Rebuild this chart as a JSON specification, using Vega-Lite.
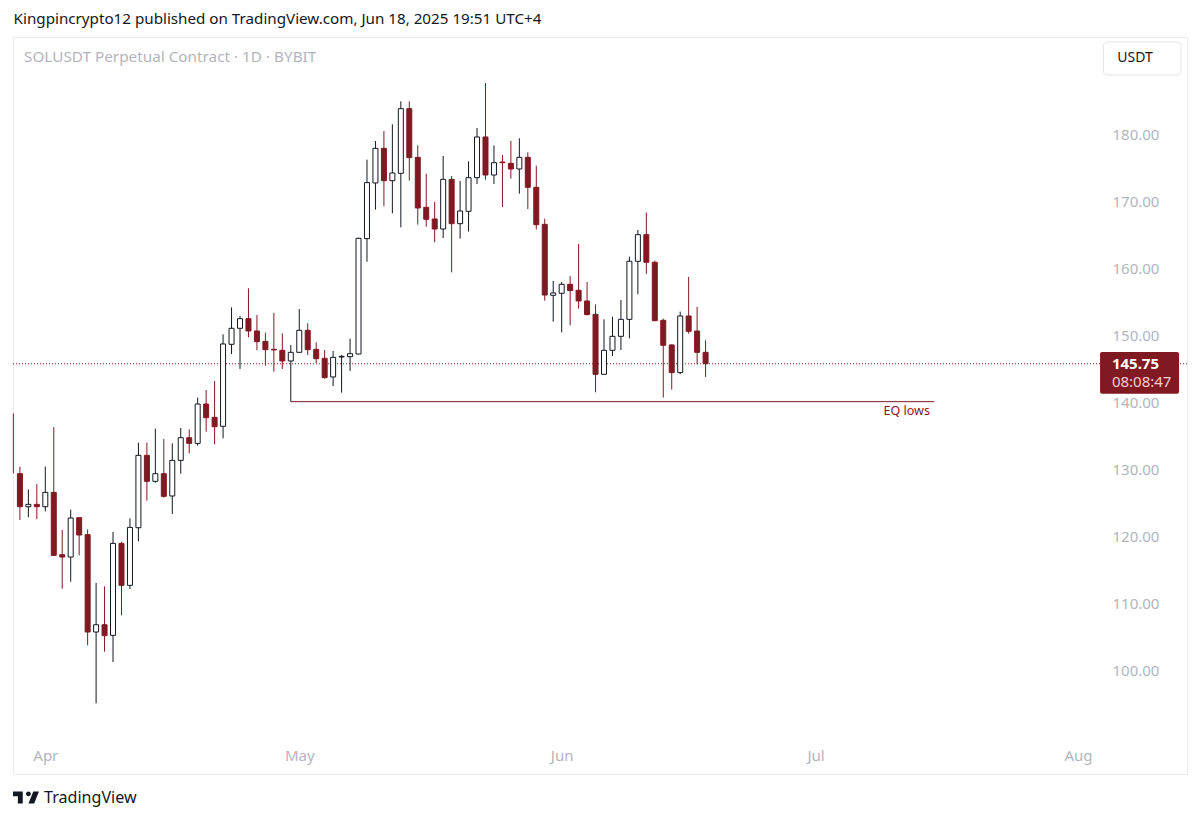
{
  "$schema": "https://vega.github.io/schema/vega-lite/v6.json",
  "width": 1174,
  "height": 737,
  "autosize": {"type": "none"},
  "padding": {"left": 13, "top": 37, "right": 13, "bottom": 47},
  "background": "white",
  "config": {
    "view": {"stroke": "#e9eaed", "strokeWidth": 1},
    "font": "Noto Sans",
    "text": {"font": "Noto Sans"}
  },
  "datasets": {
    "candles": [
      {"date": "2025-03-28T05:20:00Z", "open": null, "high": 138.34, "low": 129.38, "close": null},
      {"date": "2025-03-29", "open": 129.33, "high": 130.38, "low": 122.41, "close": 124.40},
      {"date": "2025-03-30", "open": 124.40, "high": 126.99, "low": 122.81, "close": 124.75},
      {"date": "2025-03-31", "open": 124.75, "high": 127.79, "low": 122.56, "close": 124.40},
      {"date": "2025-04-01", "open": 124.40, "high": 130.38, "low": 123.70, "close": 126.54},
      {"date": "2025-04-02", "open": 126.54, "high": 136.30, "low": 117.03, "close": 117.13},
      {"date": "2025-04-03", "open": 117.23, "high": 120.92, "low": 112.15, "close": 116.88},
      {"date": "2025-04-04", "open": 116.88, "high": 123.95, "low": 113.20, "close": 122.71},
      {"date": "2025-04-05", "open": 122.76, "high": 122.76, "low": 117.13, "close": 120.17},
      {"date": "2025-04-06", "open": 120.22, "high": 121.02, "low": 103.69, "close": 105.68},
      {"date": "2025-04-07", "open": 105.68, "high": 113.00, "low": 95.02, "close": 106.77},
      {"date": "2025-04-08", "open": 106.77, "high": 112.50, "low": 102.74, "close": 105.13},
      {"date": "2025-04-09", "open": 105.18, "high": 120.62, "low": 101.20, "close": 118.92},
      {"date": "2025-04-10", "open": 118.92, "high": 119.17, "low": 108.17, "close": 112.65},
      {"date": "2025-04-11", "open": 112.65, "high": 122.66, "low": 112.10, "close": 121.31},
      {"date": "2025-04-12", "open": 121.26, "high": 133.96, "low": 119.22, "close": 132.07},
      {"date": "2025-04-13", "open": 132.07, "high": 133.96, "low": 125.30, "close": 128.19},
      {"date": "2025-04-14", "open": 128.19, "high": 136.05, "low": 127.99, "close": 129.33},
      {"date": "2025-04-15", "open": 129.33, "high": 134.51, "low": 125.75, "close": 125.95},
      {"date": "2025-04-16", "open": 126.00, "high": 133.86, "low": 123.31, "close": 131.32},
      {"date": "2025-04-17", "open": 131.32, "high": 136.15, "low": 129.33, "close": 134.71},
      {"date": "2025-04-18", "open": 134.71, "high": 135.95, "low": 132.37, "close": 133.86},
      {"date": "2025-04-19", "open": 133.86, "high": 140.69, "low": 133.51, "close": 139.74},
      {"date": "2025-04-20", "open": 139.74, "high": 141.83, "low": 135.61, "close": 137.70},
      {"date": "2025-04-21", "open": 137.75, "high": 143.18, "low": 133.71, "close": 136.35},
      {"date": "2025-04-22", "open": 136.41, "high": 150.15, "low": 134.61, "close": 148.71},
      {"date": "2025-04-23", "open": 148.66, "high": 154.18, "low": 147.21, "close": 151.05},
      {"date": "2025-04-24", "open": 151.05, "high": 152.89, "low": 144.97, "close": 152.49},
      {"date": "2025-04-25", "open": 152.49, "high": 157.02, "low": 149.70, "close": 150.65},
      {"date": "2025-04-26", "open": 150.65, "high": 153.04, "low": 147.76, "close": 149.05},
      {"date": "2025-04-27", "open": 149.10, "high": 150.40, "low": 145.47, "close": 147.86},
      {"date": "2025-04-28", "open": 147.91, "high": 153.34, "low": 144.57, "close": 147.81},
      {"date": "2025-04-29", "open": 147.76, "high": 150.30, "low": 144.97, "close": 146.17},
      {"date": "2025-04-30", "open": 146.17, "high": 148.56, "low": 140.09, "close": 147.46},
      {"date": "2025-05-01", "open": 147.46, "high": 153.93, "low": 147.46, "close": 150.75},
      {"date": "2025-05-02", "open": 150.75, "high": 151.79, "low": 147.06, "close": 147.86},
      {"date": "2025-05-03", "open": 147.91, "high": 148.95, "low": 145.82, "close": 146.51},
      {"date": "2025-05-04", "open": 146.56, "high": 147.81, "low": 143.53, "close": 143.68},
      {"date": "2025-05-05", "open": 143.78, "high": 147.66, "low": 142.43, "close": 146.71},
      {"date": "2025-05-06", "open": 146.76, "high": 147.06, "low": 141.44, "close": 146.86},
      {"date": "2025-05-07", "open": 146.81, "high": 149.50, "low": 144.67, "close": 147.26},
      {"date": "2025-05-08", "open": 147.21, "high": 164.59, "low": 147.16, "close": 164.49},
      {"date": "2025-05-09", "open": 164.44, "high": 176.24, "low": 161.00, "close": 172.81},
      {"date": "2025-05-10", "open": 172.76, "high": 179.03, "low": 168.77, "close": 177.93},
      {"date": "2025-05-11", "open": 177.93, "high": 180.52, "low": 169.27, "close": 173.10},
      {"date": "2025-05-12", "open": 173.10, "high": 181.52, "low": 168.22, "close": 174.25},
      {"date": "2025-05-13", "open": 174.20, "high": 184.96, "low": 166.13, "close": 183.86},
      {"date": "2025-05-14", "open": 183.86, "high": 184.96, "low": 173.10, "close": 176.54},
      {"date": "2025-05-15", "open": 176.59, "high": 178.38, "low": 166.53, "close": 169.02},
      {"date": "2025-05-16", "open": 169.12, "high": 174.15, "low": 166.23, "close": 167.33},
      {"date": "2025-05-17", "open": 167.38, "high": 169.92, "low": 163.89, "close": 165.88},
      {"date": "2025-05-18", "open": 165.88, "high": 176.79, "low": 164.54, "close": 173.30},
      {"date": "2025-05-19", "open": 173.30, "high": 173.80, "low": 159.41, "close": 166.68},
      {"date": "2025-05-20", "open": 166.68, "high": 173.05, "low": 164.44, "close": 168.57},
      {"date": "2025-05-21", "open": 168.52, "high": 175.99, "low": 165.49, "close": 173.55},
      {"date": "2025-05-22", "open": 173.55, "high": 180.97, "low": 172.61, "close": 179.63},
      {"date": "2025-05-23", "open": 179.63, "high": 187.69, "low": 173.25, "close": 173.95},
      {"date": "2025-05-24", "open": 173.95, "high": 178.38, "low": 172.61, "close": 175.79},
      {"date": "2025-05-25", "open": 175.89, "high": 176.94, "low": 169.17, "close": 175.79},
      {"date": "2025-05-26", "open": 175.69, "high": 179.03, "low": 173.40, "close": 174.85},
      {"date": "2025-05-27", "open": 174.85, "high": 179.43, "low": 171.16, "close": 176.59},
      {"date": "2025-05-28", "open": 176.59, "high": 177.34, "low": 168.87, "close": 172.11},
      {"date": "2025-05-29", "open": 172.11, "high": 175.35, "low": 165.83, "close": 166.53},
      {"date": "2025-05-30", "open": 166.58, "high": 167.43, "low": 155.18, "close": 156.02},
      {"date": "2025-05-31", "open": 155.98, "high": 158.12, "low": 152.04, "close": 156.33},
      {"date": "2025-06-01", "open": 156.28, "high": 157.97, "low": 150.45, "close": 157.62},
      {"date": "2025-06-02", "open": 157.62, "high": 158.87, "low": 151.50, "close": 156.68},
      {"date": "2025-06-03", "open": 156.73, "high": 163.65, "low": 153.99, "close": 155.13},
      {"date": "2025-06-04", "open": 155.13, "high": 157.97, "low": 152.99, "close": 153.09},
      {"date": "2025-06-05", "open": 153.14, "high": 154.63, "low": 141.49, "close": 144.18},
      {"date": "2025-06-06", "open": 144.18, "high": 152.39, "low": 144.08, "close": 147.76},
      {"date": "2025-06-07", "open": 147.76, "high": 152.79, "low": 146.92, "close": 149.85},
      {"date": "2025-06-08", "open": 149.85, "high": 155.28, "low": 147.81, "close": 152.39},
      {"date": "2025-06-09", "open": 152.39, "high": 161.75, "low": 149.55, "close": 161.06},
      {"date": "2025-06-10", "open": 161.06, "high": 165.74, "low": 156.13, "close": 165.04},
      {"date": "2025-06-11", "open": 165.04, "high": 168.33, "low": 159.17, "close": 160.91},
      {"date": "2025-06-12", "open": 160.91, "high": 161.16, "low": 152.09, "close": 152.19},
      {"date": "2025-06-13", "open": 152.24, "high": 152.49, "low": 140.69, "close": 148.51},
      {"date": "2025-06-14", "open": 148.56, "high": 148.66, "low": 141.89, "close": 144.43},
      {"date": "2025-06-15", "open": 144.43, "high": 153.54, "low": 144.18, "close": 152.89},
      {"date": "2025-06-16", "open": 152.89, "high": 158.72, "low": 150.25, "close": 150.60},
      {"date": "2025-06-17", "open": 150.65, "high": 154.24, "low": 145.67, "close": 147.46},
      {"date": "2025-06-18", "open": 147.46, "high": 149.26, "low": 143.78, "close": 145.77}
    ]
  },
  "encoding": {
    "x": {
      "field": "date",
      "type": "temporal",
      "scale": {"type": "utc", "domain": [1743135897600, 1755118368000], "padding": 0},
      "axis": {
        "title": null,
        "orient": "bottom",
        "offset": -26,
        "domain": false,
        "ticks": false,
        "grid": false,
        "labelPadding": 0,
        "labelFontSize": 15,
        "labelFont": "Noto Sans",
        "labelColor": "#b2b5be",
        "labelAngle": 0,
        "labelAlign": "center",
        "labelFlush": false,
        "labelOverlap": false,
        "format": "%b",
        "values": [
          {"year": 2025, "month": 4, "date": 1, "utc": true},
          {"year": 2025, "month": 5, "date": 1, "utc": true},
          {"year": 2025, "month": 6, "date": 1, "utc": true},
          {"year": 2025, "month": 7, "date": 1, "utc": true},
          {"year": 2025, "month": 8, "date": 1, "utc": true}
        ]
      }
    },
    "y": {
      "field": "price",
      "type": "quantitative",
      "scale": {"domain": [84.47, 194.565], "nice": false, "zero": false},
      "axis": {
        "title": null,
        "orient": "right",
        "offset": -75,
        "domain": false,
        "ticks": false,
        "grid": false,
        "labelPadding": 0,
        "labelAlign": "left",
        "labelFontSize": 15,
        "labelFont": "Noto Sans",
        "labelColor": "#b2b5be",
        "format": ".2f",
        "values": [100, 110, 120, 130, 140, 150, 160, 170, 180]
      }
    }
  },
  "layer": [
    {
      "data": {"values": [{"price": 145.75}]},
      "mark": {"type": "rule", "color": "#801922", "strokeDash": [1, 2], "strokeWidth": 1},
      "encoding": {"x": {"value": 0}, "x2": {"value": 1174}}
    },
    {
      "data": {"values": [{"date": "2025-04-30", "end": "2025-07-15", "price": 140.09}]},
      "mark": {"type": "rule", "color": "#801922", "strokeWidth": 1},
      "encoding": {"x2": {"field": "end"}}
    },
    {
      "data": {"name": "candles"},
      "mark": {"type": "rule", "strokeWidth": 1},
      "encoding": {
        "y": {"field": "low", "type": "quantitative"},
        "y2": {"field": "high"},
        "color": {
          "condition": {"test": "datum.close > datum.open", "value": "#131722"},
          "value": "#801922"
        }
      }
    },
    {
      "data": {"name": "candles"},
      "transform": [{"filter": "datum.open != null"}],
      "mark": {"type": "bar", "size": 5, "strokeWidth": 1},
      "encoding": {
        "y": {"field": "open", "type": "quantitative"},
        "y2": {"field": "close"},
        "fill": {
          "condition": {"test": "datum.close > datum.open", "value": "#ffffff"},
          "value": "#801922"
        },
        "stroke": {
          "condition": {"test": "datum.close > datum.open", "value": "#131722"},
          "value": "#801922"
        }
      }
    },
    {
      "data": {"values": [{"date": "2025-07-14T12:00:00Z", "price": 138.69, "label": "EQ lows"}]},
      "mark": {"type": "text", "align": "right", "baseline": "middle", "fontSize": 12.5, "color": "#801922"},
      "encoding": {"text": {"field": "label"}}
    },
    {
      "data": {"values": [{"date": "2025-08-03T14:24:00Z", "end": "2025-08-12T22:19:00Z", "price": 147.51, "low": 141.28}]},
      "mark": {"type": "rect", "color": "#801922", "cornerRadius": 2},
      "encoding": {"x2": {"field": "end"}, "y2": {"field": "low"}}
    },
    {
      "data": {"values": [{"date": "2025-08-05", "price": 145.72, "label": "145.75"}]},
      "mark": {"type": "text", "align": "left", "baseline": "middle", "fontSize": 15, "fontWeight": "bold", "color": "#ffffff"},
      "encoding": {"text": {"field": "label"}}
    },
    {
      "data": {"values": [{"date": "2025-08-05", "price": 143.03, "label": "08:08:47"}]},
      "mark": {"type": "text", "align": "left", "baseline": "middle", "fontSize": 15, "color": "#f6cdd0"},
      "encoding": {"text": {"field": "label"}}
    },
    {
      "data": {"values": [{"date": "2025-08-04", "end": "2025-08-13T04:00:00Z", "price": 193.82, "low": 188.89}]},
      "mark": {"type": "rect", "fill": "#ffffff", "stroke": "#e0e3eb", "strokeWidth": 1, "cornerRadius": 4},
      "encoding": {"x2": {"field": "end"}, "y2": {"field": "low"}}
    },
    {
      "data": {"values": [{"date": "2025-08-07T17:30:00Z", "price": 191.43, "label": "USDT"}]},
      "mark": {"type": "text", "align": "center", "baseline": "middle", "fontSize": 14, "color": "#131722"},
      "encoding": {"text": {"field": "label"}}
    },
    {
      "data": {"values": [{"date": "2025-03-29T11:36:00Z", "price": 191.55, "label": "SOLUSDT Perpetual Contract · 1D · BYBIT"}]},
      "mark": {"type": "text", "align": "left", "baseline": "middle", "fontSize": 15.3, "color": "#b2b5be"},
      "encoding": {"text": {"field": "label"}}
    },
    {
      "data": {"values": [{"date": "2025-03-28T06:07:00Z", "price": 197.25, "label": "Kingpincrypto12 published on TradingView.com, Jun 18, 2025 19:51 UTC+4"}]},
      "mark": {"type": "text", "align": "left", "baseline": "middle", "fontSize": 15.2, "color": "#131722"},
      "encoding": {"text": {"field": "label"}}
    },
    {
      "data": {"values": [{"date": "2025-03-29T17:16:00Z", "price": 80.96}]},
      "mark": {
        "type": "point",
        "filled": true,
        "size": 676,
        "opacity": 1,
        "color": "#131722",
        "shape": "M-0.25 -0.469 H-1 V-0.094 H-0.625 V0.469 H-0.25 Z M0.625 0.469 H0.1875 L0.5625 -0.469 H1 Z M0.1875 -0.094 A0.1875 0.1875 0 1 0 0.1875 -0.469 A0.1875 0.1875 0 0 0 0.1875 -0.094 Z"
      }
    },
    {
      "data": {"values": [{"date": "2025-03-31T20:24:00Z", "price": 80.9, "label": "TradingView"}]},
      "mark": {"type": "text", "align": "left", "baseline": "middle", "fontSize": 16.1, "color": "#131722"},
      "encoding": {"text": {"field": "label"}}
    }
  ]
}
